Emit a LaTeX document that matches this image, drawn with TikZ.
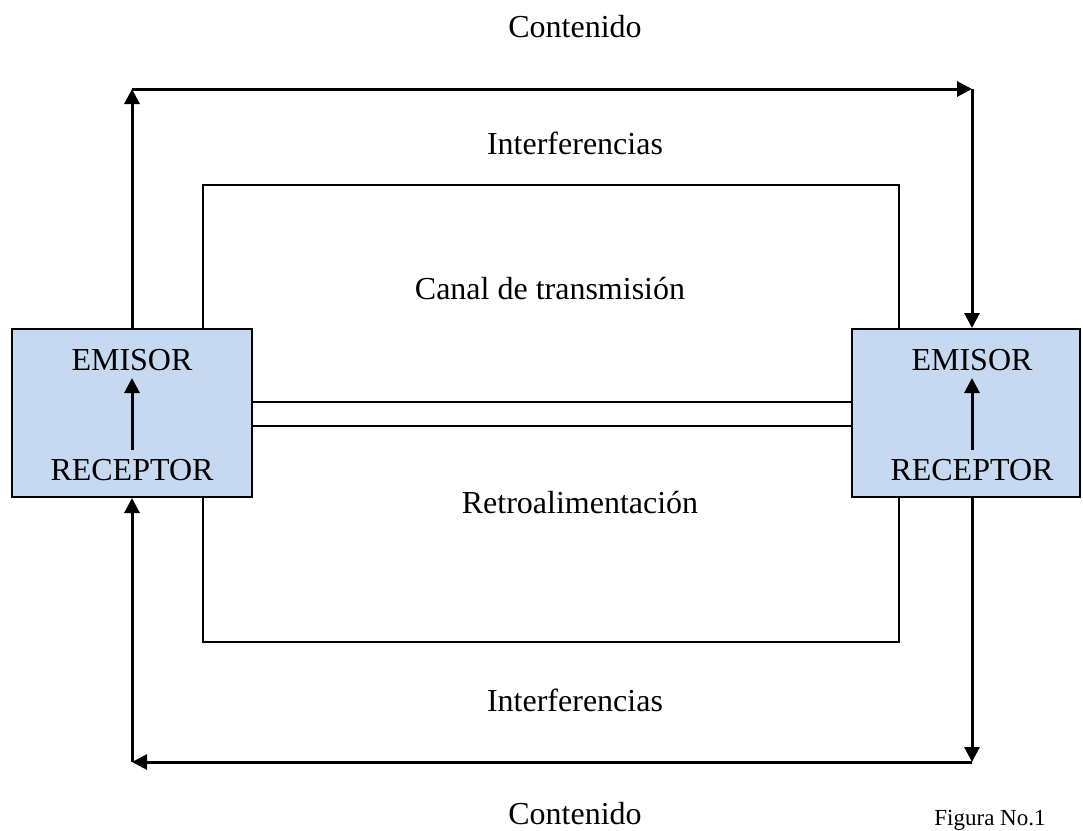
\documentclass[tikz,border=0pt]{standalone}
\usepackage{fontspec}
\setmainfont{Liberation Serif}
\usetikzlibrary{arrows.meta}
\definecolor{cajaazul}{RGB}{198,217,241}
\tikzset{
	every node/.style={font=\fontsize{16}{19}\selectfont},
	caja/.style={
		draw,
		rectangle,
		line width=1pt,
		fill=cajaazul,
		inner sep=0pt,
		minimum height=84pt,
	},
	flujo/.style={
		line width=1.5pt,
		-{Triangle[width=7.5pt,length=7.5pt]}
	},
	canal/.style={
		line width=1pt,
	},
	etiqueta/.style={
		inner sep=0pt,
	},
}

\begin{document}
\begin{tikzpicture}[x=0.5pt,y=-0.5pt]
		\useasboundingbox (0,0) rectangle (1083,831);

		\node[caja,minimum width=120pt] (izq) at (132,413) {};
		\node[caja,minimum width=114pt] (der) at (966,413) {};

		\node[etiqueta] (emisorA) at (132,360) {EMISOR};
		\node[etiqueta] (receptorA) at (132,470) {RECEPTOR};
		\node[etiqueta] (emisorB) at (972,360) {EMISOR};
		\node[etiqueta] (receptorB) at (972,470) {RECEPTOR};

		\draw[flujo] (132,450) -- (132,378);
		\draw[flujo] (972,450) -- (972,378);

		\coordinate (tl) at (132,89);
		\coordinate (tr) at (972,89);
		\coordinate (bl) at (132,762);
		\coordinate (br) at (972,762);

		% canal de ida y vuelta
		\draw[canal] (203,329) -- (203,185) -- (899,185) -- (899,329);
		\draw[canal] (203,497) -- (203,642) -- (899,642) -- (899,497);
		\draw[canal] (izq.east |- 0,402) -- (der.west |- 0,402);
		\draw[canal] (izq.east |- 0,426) -- (der.west |- 0,426);

		\draw[flujo] (izq.north) -- (tl);
		\draw[flujo] (tl) -- (tr);
		\draw[flujo] (tr) -- (der.north -| tr);
		\draw[flujo] (der.south -| br) -- (br);
		\draw[flujo] (br) -- (bl);
		\draw[flujo] (bl) -- (izq.south);

		\node[etiqueta] (contenidoA) at (575,27) {Contenido};
		\node[etiqueta] (interfA) at (575,143) {Interferencias};
		\node[etiqueta] (canal) at (550,289) {Canal de transmisión};
		\node[etiqueta] (retro) at (580,503) {Retroalimentación};
		\node[etiqueta] (interfB) at (575,700) {Interferencias};
		\node[etiqueta] (contenidoB) at (575,814) {Contenido};
		\node[etiqueta,font=\fontsize{11.5}{14}\selectfont] (figura) at (990,820) {Figura No.1};

	\end{tikzpicture}
\end{document}
